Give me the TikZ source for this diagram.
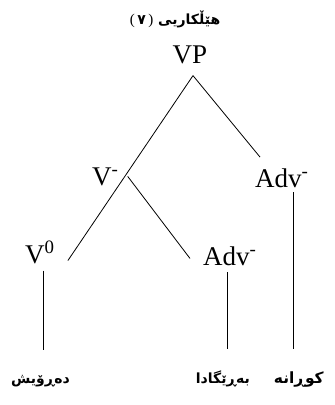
\documentclass[tikz,border=0pt]{standalone}
\usepackage{fontspec}
\setmainfont{Liberation Serif}
\newfontfamily\kurdfont[Script=Arabic]{DejaVu Sans}
\TeXXeTstate=1
\usetikzlibrary{positioning}

\begin{document}
\begin{tikzpicture}[x=1pt,y=-1pt,
  lbl/.style={inner sep=0pt,anchor=base west,font=\fontsize{27}{27}\selectfont},
  word/.style={inner sep=0pt,anchor=base,text height=11pt,font=\kurdfont\bfseries\fontsize{14}{14}\selectfont},
  branch/.style={line width=0.8pt}]
  \useasboundingbox (0,0) rectangle (335,405);

  \node[word,font=\kurdfont\bfseries\fontsize{14}{14}\selectfont] (title) at (175,24)
    {{\rmfamily\mdseries\fontsize{15}{15}\selectfont(\,}٧{\rmfamily\mdseries\fontsize{15}{15}\selectfont\,)}\ \beginR هێڵکاریی\endR}; %caption

  \node[lbl,anchor=base] (vp) at (190,63) {VP};             %root
  \node[lbl] (vbar)   at (92,185)  {V\textsuperscript{-}};   %intermediate V
  \node[lbl] (advtop) at (255,187) {Adv\textsuperscript{-}}; %upper adverb
  \node[lbl] (vzero)  at (25,263)  {V\textsuperscript{0}};   %head
  \node[lbl] (advlow) at (203,265) {Adv\textsuperscript{-}}; %lower adverb

  \draw[branch] ([shift={(3,12)}]vp.south) -- ([shift={(13,-3)}]vzero.south east); %VP down to V0
  \draw[branch] ([shift={(3,12)}]vp.south) -- ([shift={(5,-11)}]advtop.north west);
  \draw[branch] ([shift={(9,0)}]vbar.east) -- ([shift={(-13,-7)}]advlow.south west);

  %verticals down to the words
  \draw[branch] ([shift={(3.5,7)}]vzero.south) -- ++(0,79) coordinate (drwtop);
  \draw[branch] ([shift={(-2,7)}]advlow.south) -- ++(0,77) coordinate (brgtop);
  \draw[branch] ([shift={(12,5)}]advtop.south) -- ++(0,157) coordinate (kwrtop);

  \node[word,below=23pt of drwtop,xshift=-3pt] (drw) {\beginR دەڕۆیش\endR};
  \node[word,below=23pt of brgtop,xshift=-5pt] (brg) {\beginR بەڕێگادا\endR};
  \node[word,below=23pt of kwrtop,xshift=5pt,font=\kurdfont\bfseries\fontsize{15.5}{16}\selectfont] (kwr) {\beginR کوڕانە\endR};
\end{tikzpicture}
\end{document}
